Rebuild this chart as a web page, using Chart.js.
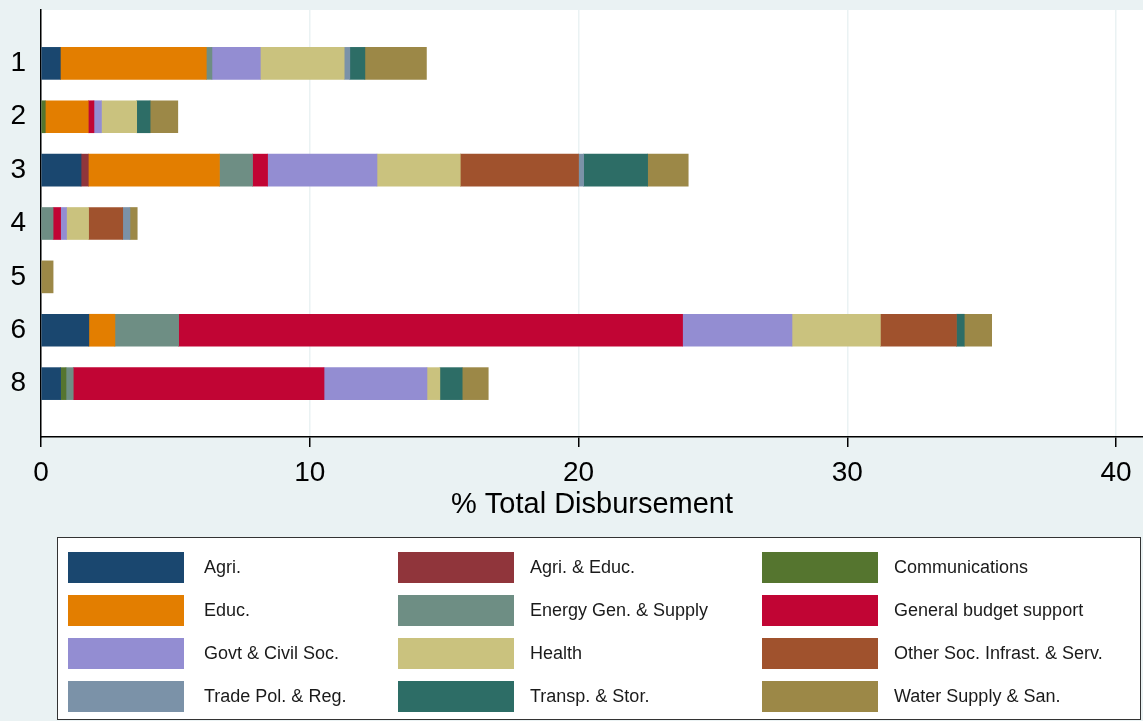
<!DOCTYPE html>
<html>
<head>
<meta charset="utf-8">
<script src="https://cdn.jsdelivr.net/npm/chart.js@4"></script>
<style>
  html, body { margin: 0; padding: 0; background: #eaf2f3; }
  canvas { display: block; }
</style>
</head>
<body>
<canvas id="chart" width="1143" height="721"></canvas>
<script>
// groups on the y axis (7 is not present in the data)
const groups = ['1', '2', '3', '4', '5', '6', '8'];

// % of total disbursement per sector, one value per group
const agri      = [0.72, 0,    1.49, 0,    0,    1.78,  0.73];
const agriEduc  = [0,    0,    0.27, 0,    0,    0,     0];
const comms     = [0,    0.16, 0,    0,    0,    0,     0.20];
const educ      = [5.43, 1.60, 4.88, 0,    0,    0.97,  0];
const energy    = [0.21, 0,    1.23, 0.45, 0,    2.37,  0.27];
const budget    = [0,    0.21, 0.56, 0.28, 0,    18.75, 9.33];
const govt      = [1.80, 0.28, 4.07, 0.22, 0,    4.07,  3.83];
const health    = [3.12, 1.31, 3.10, 0.82, 0,    3.29,  0.48];
const otherSoc  = [0,    0,    4.40, 1.27, 0,    2.83,  0];
const tradePol  = [0.21, 0,    0.19, 0.27, 0,    0,     0];
const transp    = [0.56, 0.50, 2.38, 0,    0,    0.29,  0.83];
const water     = [2.29, 1.03, 1.51, 0.27, 0.45, 1.02,  0.97];

const xTicks = [0, 10, 20, 30, 40];

const series = [
  ['Agri.', agri, '#1a476f'],
  ['Agri. & Educ.', agriEduc, '#90353b'],
  ['Communications', comms, '#55752f'],
  ['Educ.', educ, '#e37e00'],
  ['Energy Gen. & Supply', energy, '#6e8e84'],
  ['General budget support', budget, '#c10534'],
  ['Govt & Civil Soc.', govt, '#938dd2'],
  ['Health', health, '#cac27e'],
  ['Other Soc. Infrast. & Serv.', otherSoc, '#a0522d'],
  ['Trade Pol. & Reg.', tradePol, '#7b92a8'],
  ['Transp. & Stor.', transp, '#2d6d66'],
  ['Water Supply & San.', water, '#9c8847']
];

// empty slot above 1 and below 8 so the groups sit where the axis puts them
const labels = [''].concat(groups, ['']);
const pad = arr => [null].concat(arr.map(v => v || null), [null]);

const datasets = series.map(s => ({
  label: s[0],
  data: pad(s[1]),
  backgroundColor: s[2],
  borderWidth: 0,
  barThickness: 32
}));

const bgPlugin = {
  id: 'bg',
  beforeDraw(chart) {
    const ctx = chart.ctx, a = chart.chartArea;
    ctx.save();
    ctx.fillStyle = '#eaf2f3';
    ctx.fillRect(0, 0, chart.width, chart.height);
    ctx.fillStyle = '#ffffff';
    ctx.fillRect(a.left, a.top, a.right - a.left, a.bottom - a.top);
    ctx.restore();
  }
};

// legend box in 3 columns, drawn under the axis
const legendPlugin = {
  id: 'boxLegend',
  afterDraw(chart) {
    const ctx = chart.ctx;
    ctx.save();
    ctx.fillStyle = '#ffffff';
    ctx.fillRect(57, 537, 1083, 182);
    ctx.strokeStyle = '#333333';
    ctx.lineWidth = 1;
    ctx.strokeRect(57.5, 537.5, 1083, 182);
    const colX = [68, 398, 762];
    const textX = [204, 530, 894];
    ctx.font = '18px "Liberation Sans", Arial, sans-serif';
    ctx.textBaseline = 'middle';
    chart.data.datasets.forEach((ds, i) => {
      const c = i % 3, r = Math.floor(i / 3);
      const y = 552 + r * 43;
      ctx.fillStyle = ds.backgroundColor;
      ctx.fillRect(colX[c], y, 116, 31);
      ctx.fillStyle = '#1a1a1a';
      ctx.fillText(ds.label, textX[c], y + 16);
    });
    ctx.restore();
  }
};

new Chart(document.getElementById('chart'), {
  type: 'bar',
  data: { labels: labels, datasets: datasets },
  options: {
    indexAxis: 'y',
    responsive: false,
    animation: false,
    devicePixelRatio: 1,
    layout: { padding: { top: 10, right: 0, bottom: 199, left: 0 } },
    plugins: { legend: { display: false }, tooltip: { enabled: false } },
    scales: {
      x: {
        stacked: true,
        min: 0,
        max: 41,
        afterBuildTicks: s => { s.ticks = xTicks.map(v => ({ value: v })); },
        afterFit: s => { s.height = 85; },
        grid: { color: '#eaf2f3', lineWidth: 1.5, tickLength: 10, tickColor: '#000' },
        border: { color: '#000', width: 1.5 },
        ticks: { color: '#000', padding: 9, font: { family: '"Liberation Sans", Arial, sans-serif', size: 28 } },
        title: {
          display: true,
          text: '% Total Disbursement',
          color: '#000',
          padding: { top: 2, bottom: 0 },
          font: { family: '"Liberation Sans", Arial, sans-serif', size: 29 }
        }
      },
      y: {
        stacked: true,
        offset: false,
        afterFit: s => { s.width = 41; s.paddingTop = 0; s.paddingBottom = 0; },
        grid: { display: false, drawTicks: false },
        border: { color: '#000', width: 1.5 },
        ticks: { color: '#000', padding: 15, font: { family: '"Liberation Sans", Arial, sans-serif', size: 28 } }
      }
    }
  },
  plugins: [bgPlugin, legendPlugin]
});
</script>
</body>
</html>
